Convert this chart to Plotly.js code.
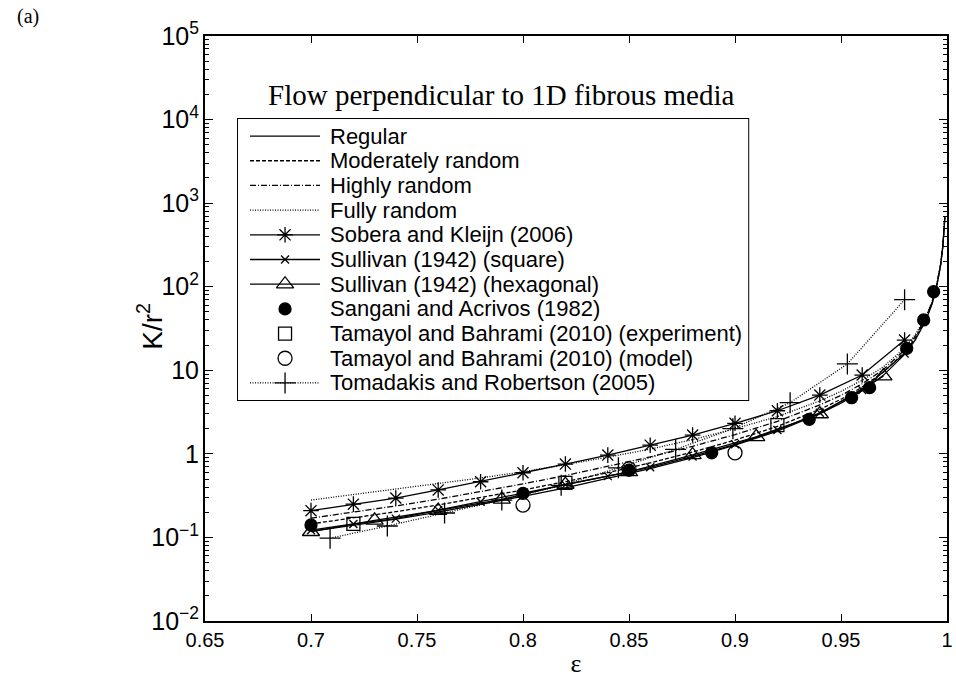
<!DOCTYPE html>
<html>
<head>
<meta charset="utf-8">
<script src="https://cdn.plot.ly/plotly-3.0.1.min.js"></script>
<style>html,body{margin:0;padding:0;background:#fff;}#chart{width:956px;height:691px;}</style>
</head>
<body>
<div id="chart"></div>
<script>
// ---------- data ----------
const seriesNames = [
  "Regular",
  "Moderately random",
  "Highly random",
  "Fully random",
  "Sobera and Kleijn (2006)",
  "Sullivan (1942) (square)",
  "Sullivan (1942) (hexagonal)",
  "Sangani and Acrivos (1982)",
  "Tamayol and Bahrami (2010) (experiment)",
  "Tamayol and Bahrami (2010) (model)",
  "Tomadakis and Robertson (2005)"
];

const epsModel   = [0.70,0.72,0.74,0.76,0.78,0.80,0.82,0.84,0.86,0.88,0.90,0.92,0.94,0.95,0.96,0.97,0.98,0.985,0.99,0.993,0.995,0.997,0.998,0.999];
const kRegular   = [0.118,0.139,0.166,0.201,0.248,0.31,0.392,0.506,0.667,0.90,1.27,1.87,3.02,4.04,5.69,8.7,15.5,22.9,39.4,62.5,96,181,296,679];
const kModerate  = [0.145,0.17,0.203,0.245,0.30,0.37,0.465,0.595,0.78,1.05,1.46,2.13,3.4,4.5,6.3,9.5,16.5,24,41,64.5,98,184,299,684];
const kHighly    = [0.17,0.20,0.238,0.287,0.352,0.437,0.55,0.705,0.92,1.23,1.7,2.45,3.85,5.0,6.9,10.2,17.5,25.3,42.5,66,100,187,302,688];
const kFully     = [0.28,0.325,0.378,0.44,0.515,0.61,0.74,0.91,1.14,1.48,2.0,2.8,4.3,5.6,7.6,11.0,18.5,26.5,43.5,67,101,188,304,692];

const epsSobera  = [0.70,0.72,0.74,0.76,0.78,0.80,0.82,0.84,0.86,0.88,0.90,0.92,0.94,0.96,0.98];
const kSobera    = [0.209,0.25,0.296,0.37,0.464,0.594,0.755,0.967,1.27,1.68,2.32,3.28,5.05,8.77,23];

const epsSullSq  = [0.70,0.72,0.74,0.76,0.78,0.80,0.82,0.84,0.86,0.88,0.90,0.92,0.94,0.96,0.98];
const kSullSq    = [0.122,0.145,0.168,0.212,0.267,0.335,0.425,0.542,0.69,0.93,1.3,1.93,3.1,5.8,15.9];

const epsSullHex = [0.70,0.73,0.76,0.79,0.82,0.85,0.88,0.91,0.94,0.97];
const kSullHex   = [0.117,0.16,0.21,0.285,0.43,0.61,0.97,1.6,3.0,8.5];

const epsSangani = [0.70,0.80,0.85,0.889,0.935,0.955,0.9635,0.981,0.989,0.9937];
const kSangani   = [0.141,0.337,0.64,1.03,2.59,4.7,6.2,18.3,40,87];

const epsTamExp  = [0.72,0.82,0.92];
const kTamExp    = [0.145,0.45,2.21];

const epsTamMod  = [0.80,0.85,0.90];
const kTamMod    = [0.244,0.66,1.03];

const epsTomad   = [0.709,0.736,0.763,0.790,0.818,0.845,0.872,0.899,0.926,0.953,0.980];
const kTomad     = [0.098,0.137,0.196,0.28,0.42,0.68,1.13,2.0,4.1,11.9,70];

const xTicks = [0.65,0.7,0.75,0.8,0.85,0.9,0.95,1];

// ---------- styles ----------
const SANS = "Liberation Sans, Arial, Helvetica, sans-serif";
const SERIF = "Liberation Serif, Times New Roman, serif";
const BLK = "#000000";
const LW = 1.3;

const styles = [
  {mode:"lines", dash:"solid"},
  {mode:"lines", dash:"4px,2px"},
  {mode:"lines", dash:"6px,2px,1px,2px"},
  {mode:"lines", dash:"1px,1.5px"},
  {mode:"lines+markers", dash:"solid", symbol:"asterisk-open", size:13},
  {mode:"lines+markers", dash:"solid", symbol:"x-thin-open", size:8},
  {mode:"lines+markers", dash:"solid", symbol:"triangle-up-open", size:15},
  {mode:"markers", symbol:"circle", size:12},
  {mode:"markers", symbol:"square-open", size:13},
  {mode:"markers", symbol:"circle-open", size:14},
  {mode:"lines+markers", dash:"1px,1.5px", symbol:"cross-thin-open", size:15}
];

const xs = [epsModel,epsModel,epsModel,epsModel,epsSobera,epsSullSq,epsSullHex,epsSangani,epsTamExp,epsTamMod,epsTomad];
const ys = [kRegular,kModerate,kHighly,kFully,kSobera,kSullSq,kSullHex,kSangani,kTamExp,kTamMod,kTomad];

const traces = [];
for (let i = 0; i < seriesNames.length; i++) {
  const st = styles[i];
  const t = {
    type:"scatter", x:xs[i], y:ys[i], name:seriesNames[i], mode:st.mode,
    showlegend:false, xaxis:"x", yaxis:"y", cliponaxis:true
  };
  if (st.mode.indexOf("lines") >= 0) t.line = {color:BLK, width:LW, dash:st.dash};
  if (st.mode.indexOf("markers") >= 0) t.marker = {symbol:st.symbol, size:st.size, color:BLK, line:{color:BLK, width:1.3}};
  traces.push(t);
}

// ---------- hand-built legend (drawn in its own small axes) ----------
const legSampleX = [12, 47, 82];
const legTextX = 90;
const annotations = [];
for (let i = 0; i < seriesNames.length; i++) {
  const st = styles[i];
  if (st.mode.indexOf("lines") >= 0) {
    traces.push({type:"scatter", x:[legSampleX[0], legSampleX[2]], y:[i, i], mode:"lines",
      line:{color:BLK, width:LW, dash:st.dash}, xaxis:"x2", yaxis:"y2", showlegend:false, hoverinfo:"skip"});
  }
  if (st.mode.indexOf("markers") >= 0) {
    traces.push({type:"scatter", x:[legSampleX[1]], y:[i], mode:"markers",
      marker:{symbol:st.symbol, size:st.size, color:BLK, line:{color:BLK, width:1.3}},
      xaxis:"x2", yaxis:"y2", showlegend:false, hoverinfo:"skip"});
  }
  annotations.push({xref:"x2", yref:"y2", x:legTextX, y:i, text:seriesNames[i], showarrow:false,
    xanchor:"left", yanchor:"middle", font:{family:SANS, size:22, color:BLK}});
}

annotations.push({xref:"paper", yref:"paper", x:0.3984, y:0.899, text:"Flow perpendicular to 1D fibrous media",
  showarrow:false, xanchor:"center", yanchor:"middle", font:{family:SERIF, size:29, color:BLK}});
annotations.push({xref:"paper", yref:"paper", x:-0.238, y:1.034, text:"(a)",
  showarrow:false, xanchor:"center", yanchor:"middle", font:{family:SERIF, size:20, color:BLK}});
annotations.push({xref:"paper", yref:"paper", x:-0.0741, y:0.503, text:"K/r<sup>2</sup>", textangle:-90,
  showarrow:false, xanchor:"center", yanchor:"middle", font:{family:SANS, size:28, color:BLK}});

const layout = {
  width:956, height:691,
  margin:{l:205, r:9, t:36, b:70, pad:0},
  paper_bgcolor:"#ffffff", plot_bgcolor:"#ffffff",
  showlegend:false,
  xaxis:{
    range:[0.65,1], tickmode:"array", tickvals:xTicks, ticktext:xTicks.map(String),
    ticks:"inside", ticklen:7, tickwidth:1, tickcolor:BLK,
    showline:true, linewidth:2, linecolor:BLK, mirror:"ticks",
    showgrid:false, zeroline:false,
    tickfont:{family:SANS, size:20, color:BLK},
    title:{text:"ε", font:{family:SERIF, size:26, color:BLK}, standoff:4}
  },
  yaxis:{
    type:"log", range:[-2,5], dtick:1, exponentformat:"power", showexponent:"all",
    ticks:"inside", ticklen:8, tickwidth:1, tickcolor:BLK,
    minor:{ticks:"inside", ticklen:4, dtick:"D1", tickcolor:BLK, tickwidth:1, showgrid:false},
    showline:true, linewidth:2, linecolor:BLK, mirror:"ticks",
    showgrid:false, zeroline:false,
    tickfont:{family:SANS, size:20, color:BLK}
  },
  xaxis2:{domain:[0.0445,0.7321], range:[0,510], visible:false, anchor:"y2", fixedrange:true},
  yaxis2:{domain:[0.3778,0.8581], range:[10.69,-0.69], visible:false, anchor:"x2", fixedrange:true},
  shapes:[
    {type:"rect", xref:"x2 domain", yref:"y2 domain", x0:0, x1:1, y0:0, y1:1,
     line:{color:BLK, width:2}, fillcolor:"#ffffff", layer:"below"}
  ],
  annotations:annotations
};

Plotly.newPlot("chart", traces, layout, {displayModeBar:false, staticPlot:true});
</script>
</body>
</html>
